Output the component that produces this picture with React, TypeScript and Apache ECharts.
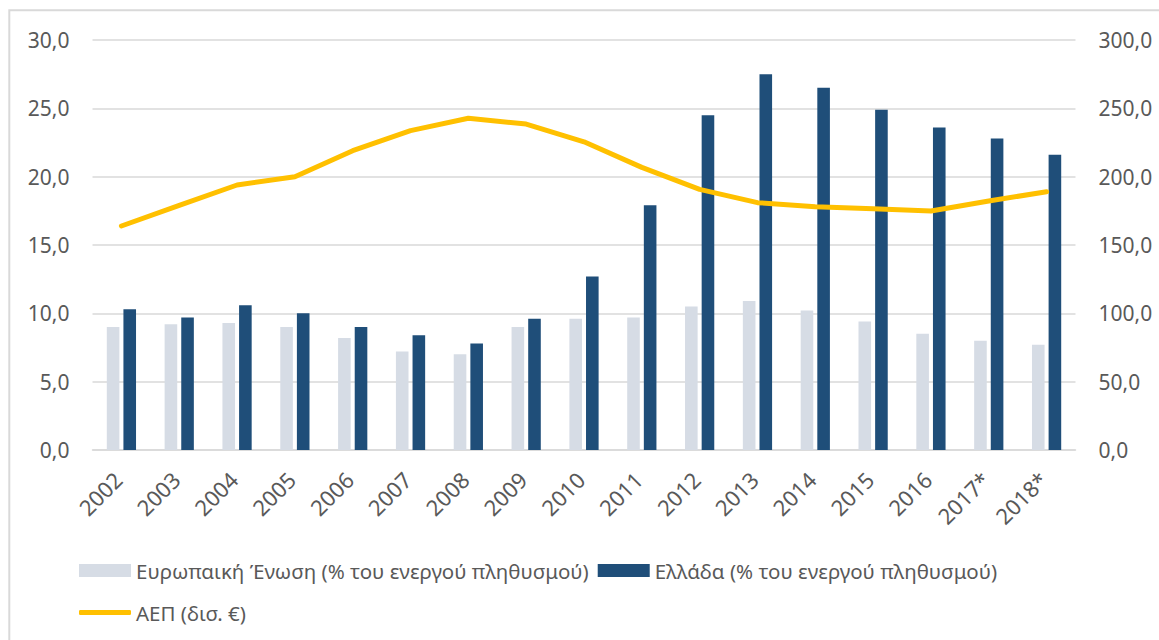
import React, { useEffect, useRef } from "react";
import * as echarts from "echarts";

const years = ["2002", "2003", "2004", "2005", "2006", "2007", "2008", "2009", "2010", "2011", "2012", "2013", "2014", "2015", "2016", "2017*", "2018*"];
const euUnemployment = [9.0, 9.2, 9.3, 9.0, 8.2, 7.2, 7.0, 9.0, 9.6, 9.7, 10.5, 10.9, 10.2, 9.4, 8.5, 8.0, 7.7];
const greeceUnemployment = [10.3, 9.7, 10.6, 10.0, 9.0, 8.4, 7.8, 9.6, 12.7, 17.9, 24.5, 27.5, 26.5, 24.9, 23.6, 22.8, 21.6];
const gdp = [163.9, 179.0, 193.9, 200.0, 219.0, 233.7, 242.7, 238.5, 225.5, 206.8, 190.7, 181.0, 178.0, 176.6, 174.9, 182.2, 189.0];
const leftTicks = { min: 0, max: 30, interval: 5 };
const rightTicks = { min: 0, max: 300, interval: 50 };

const seriesNames = {
  eu: "Ευρωπαική Ένωση (% του ενεργού πληθυσμού)",
  gr: "Ελλάδα (% του ενεργού πληθυσμού)",
  gdp: "ΑΕΠ (δισ. €)",
};

const FONT = "'Noto Sans', sans-serif";
const TEXT = "#595959";
const GRID = "#D9D9D9";
const fmt = (v: number) => v.toFixed(1).replace(".", ",");

export default function App() {
  const ref = useRef<HTMLDivElement>(null);
  useEffect(() => {
    if (!ref.current) return;
    const chart = echarts.init(ref.current, null, { renderer: "svg" });
    chart.setOption({
      animation: false,
      backgroundColor: "#fff",
      textStyle: { fontFamily: FONT },
      graphic: [
        {
          type: "rect",
          shape: { x: 9.3, y: 10.3, width: 1400, height: 1000 },
          style: { fill: "none", stroke: GRID, lineWidth: 2 },
          silent: true,
        },
      ],
      grid: { left: 92.5, right: 83.5, top: 40, height: 410 },
      legend: [
        {
          data: [seriesNames.eu, seriesNames.gr],
          left: 74,
          top: 555,
          itemWidth: 52,
          itemHeight: 13,
          itemGap: 9,
          icon: "rect",
          textStyle: { color: TEXT, fontSize: 20.5, fontFamily: FONT },
        },
        {
          data: [{ name: seriesNames.gdp, icon: "roundRect" }],
          left: 74,
          top: 597,
          itemWidth: 52,
          itemHeight: 5,
          textStyle: { color: TEXT, fontSize: 20.5, fontFamily: FONT },
        },
      ],
      xAxis: {
        type: "category",
        data: years,
        axisTick: { show: false },
        axisLine: { lineStyle: { color: GRID, width: 1.5 } },
        axisLabel: {
          rotate: 45,
          color: TEXT,
          fontSize: 22,
          margin: 22,
          padding: [0, 5, 0, 0],
          fontFamily: FONT,
          interval: 0,
        },
      },
      yAxis: [
        {
          type: "value",
          ...leftTicks,
          axisLabel: { formatter: fmt, color: TEXT, fontSize: 21, margin: 23, fontFamily: FONT },
          splitLine: { lineStyle: { color: GRID, width: 1.5 } },
          axisLine: { show: false },
          axisTick: { show: false },
        },
        {
          type: "value",
          ...rightTicks,
          position: "right",
          axisLabel: { formatter: fmt, color: TEXT, fontSize: 21, margin: 23, fontFamily: FONT },
          splitLine: { show: false },
          axisLine: { show: false },
          axisTick: { show: false },
        },
      ],
      series: [
        {
          name: seriesNames.eu,
          type: "bar",
          data: euUnemployment,
          barWidth: 12.6,
          barGap: "32%",
          itemStyle: { color: "#D6DCE5" },
        },
        {
          name: seriesNames.gr,
          type: "bar",
          data: greeceUnemployment,
          barWidth: 12.6,
          barGap: "32%",
          itemStyle: { color: "#1F4E79" },
        },
        {
          name: seriesNames.gdp,
          type: "line",
          yAxisIndex: 1,
          data: gdp,
          symbol: "none",
          z: 5,
          lineStyle: { color: "#FFC000", width: 5, cap: "round", join: "round" },
          itemStyle: { color: "#FFC000" },
        },
      ],
    });
    return () => chart.dispose();
  }, []);
  return <div ref={ref} style={{ position: "absolute", left: 0, top: 0, width: 1159, height: 640 }} />;
}
